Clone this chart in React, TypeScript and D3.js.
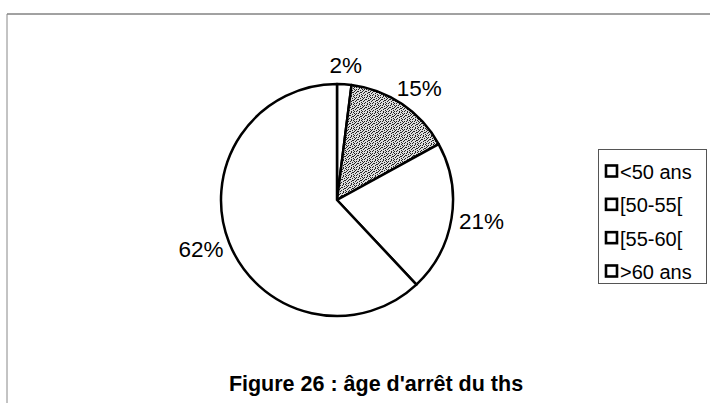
import React from "react";
import * as d3 from "d3";

const categories = ["<50 ans", "[50-55[", "[55-60[", ">60 ans"];
const values = [2, 15, 21, 62];
const labels = ["2%", "15%", "21%", "62%"];
const fills = ["#ffffff", "url(#stipple)", "#ffffff", "#ffffff"];
const title = "Figure 26 : âge d'arrêt du ths";

const dots: [number, number][] = [
  [0, 0], [3, 1], [6, 0], [1, 3], [5, 3], [7, 4], [2, 5], [4, 6], [0, 6], [6, 7], [3, 4], [1, 7], [5, 1],
  [2, 2], [7, 2], [4, 3], [0, 4], [6, 5], [3, 7], [1, 1],
];

export default function App() {
  const W = 710, H = 403;
  const cx = 337, cy = 200, R = 116;
  const pie = d3.pie<number>().sort(null).value((d) => d)(values);
  const arc = d3.arc<d3.PieArcDatum<number>>().innerRadius(0).outerRadius(R);
  const font = "'Liberation Sans', Arial, sans-serif";
  const labelFont = 22.5;
  const labelR = 124;
  const legendY = d3.scalePoint<string>().domain(categories).range([171, 271]);

  return (
    <svg width={W} height={H} style={{ position: "absolute", left: 0, top: 0 }} fontFamily={font}>
      <defs>
        <pattern id="stipple" width={8} height={8} patternUnits="userSpaceOnUse">
          <rect width={8} height={8} fill="#dcdcdc" />
          {dots.map(([x, y], i) => (
            <rect key={i} x={x} y={y} width={1} height={1} fill="#222" />
          ))}
        </pattern>
      </defs>
      <rect width={W} height={H} fill="#fff" />
      <line x1={7} y1={14} x2={710} y2={14} stroke="#444" strokeWidth={1} />
      <line x1={7} y1={14} x2={7} y2={403} stroke="#888" strokeWidth={1} />
      <g transform={`translate(${cx},${cy})`}>
        {pie.map((p, i) => (
          <path key={i} d={arc(p) || ""} fill={fills[i]} stroke="#000" strokeWidth={2.5} strokeLinejoin="round" />
        ))}
        {pie.map((p, i) => {
          const a = (p.startAngle + p.endAngle) / 2;
          const sx = Math.sin(a), sy = -Math.cos(a);
          const w = labels[i].length * labelFont * 0.66, h = labelFont;
          const x = sx * labelR + sx * w / 2;
          const y = sy * labelR + sy * h / 2;
          return (
            <text key={i} x={x} y={y} textAnchor="middle" dominantBaseline="central" fontSize={labelFont} fill="#000">
              {labels[i]}
            </text>
          );
        })}
      </g>
      <rect x={598.5} y={149.5} width={108} height={134} fill="#fff" stroke="#555" strokeWidth={1} />
      {categories.map((c) => (
        <g key={c} transform={`translate(0,${legendY(c)})`}>
          <rect x={606} y={-5.5} width={11} height={11} fill="#fff" stroke="#000" strokeWidth={2.6} />
          <text x={620} y={1} dominantBaseline="central" fontSize={20} fill="#000">{c}</text>
        </g>
      ))}
      <text x={376} y={391} textAnchor="middle" fontSize={21.5} fontWeight="bold" fill="#000">{title}</text>
    </svg>
  );
}
